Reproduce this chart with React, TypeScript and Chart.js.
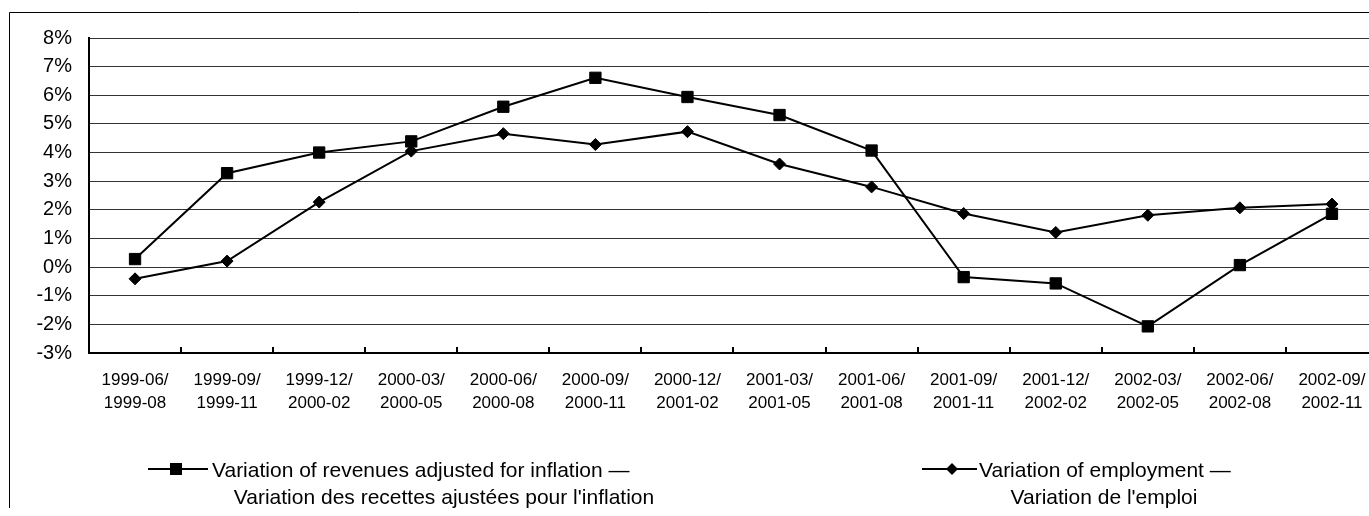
import React, { useEffect, useRef } from 'react';
import { Chart, registerables } from 'chart.js';

Chart.register(...registerables);

const FONT = '"Liberation Sans", Arial, Helvetica, sans-serif';

const categories: string[][] = [
  ['1999-06/', '1999-08'],
  ['1999-09/', '1999-11'],
  ['1999-12/', '2000-02'],
  ['2000-03/', '2000-05'],
  ['2000-06/', '2000-08'],
  ['2000-09/', '2000-11'],
  ['2000-12/', '2001-02'],
  ['2001-03/', '2001-05'],
  ['2001-06/', '2001-08'],
  ['2001-09/', '2001-11'],
  ['2001-12/', '2002-02'],
  ['2002-03/', '2002-05'],
  ['2002-06/', '2002-08'],
  ['2002-09/', '2002-11'],
];

const revenues: number[] = [0.28, 3.28, 4.0, 4.39, 5.6, 6.61, 5.94, 5.31, 4.07, -0.35, -0.57, -2.07, 0.07, 1.86];
const employment: number[] = [-0.41, 0.21, 2.27, 4.05, 4.66, 4.28, 4.73, 3.6, 2.8, 1.87, 1.21, 1.81, 2.07, 2.2];

const yMin = -3;
const yMax = 8;
const yStep = 1;

const revenuesLabel: string[] = [
  'Variation of revenues adjusted for inflation \u2014',
  "Variation des recettes ajust\u00e9es pour l'inflation",
];
const employmentLabel: string[] = ['Variation of employment \u2014', "Variation de l'emploi"];

const decorPlugin = {
  id: 'decor',
  beforeDraw(chart: any) {
    const ctx = chart.ctx;
    ctx.save();
    ctx.fillStyle = '#fff';
    ctx.fillRect(0, 0, chart.width, chart.height);
    // outer frame (left and top visible)
    ctx.strokeStyle = '#000';
    ctx.lineWidth = 1;
    ctx.beginPath();
    ctx.moveTo(1.5, chart.height + 10);
    ctx.lineTo(1.5, 4.5);
    ctx.lineTo(chart.width + 10, 4.5);
    ctx.stroke();
    ctx.restore();
  },
  afterDraw(chart: any) {
    const ctx = chart.ctx;
    const xs = chart.scales.x;
    const bottom = chart.chartArea.bottom;
    const half = (xs.getPixelForValue(1) - xs.getPixelForValue(0)) / 2;
    ctx.save();
    // inside tick marks between categories
    ctx.strokeStyle = '#000';
    ctx.lineWidth = 2;
    ctx.beginPath();
    for (let i = 1; i <= categories.length; i++) {
      const x = Math.round(xs.getPixelForValue(i) - half);
      ctx.moveTo(x, bottom);
      ctx.lineTo(x, bottom - 6);
    }
    ctx.stroke();

    // legend
    ctx.font = `21px ${FONT}`;
    ctx.fillStyle = '#000';
    ctx.textBaseline = 'alphabetic';
    const drawItem = (
      lx0: number,
      lx1: number,
      mx: number,
      tx: number,
      c2: number,
      lines: string[],
      style: string
    ) => {
      const ly = 461;
      ctx.lineWidth = 2;
      ctx.beginPath();
      ctx.moveTo(lx0, ly);
      ctx.lineTo(lx1, ly);
      ctx.stroke();
      ctx.beginPath();
      if (style === 'rect') {
        ctx.rect(mx - 6, ly - 6, 12, 12);
      } else {
        ctx.moveTo(mx - 6, ly);
        ctx.lineTo(mx, ly - 6);
        ctx.lineTo(mx + 6, ly);
        ctx.lineTo(mx, ly + 6);
        ctx.closePath();
      }
      ctx.fill();
      ctx.textAlign = 'left';
      ctx.fillText(lines[0], tx, 469);
      ctx.textAlign = 'center';
      ctx.fillText(lines[1], c2, 496);
    };
    drawItem(140, 200, 168, 204, 436, revenuesLabel, 'rect');
    drawItem(914, 969, 944, 971, 1096, employmentLabel, 'rectRot');
    ctx.restore();
  },
};

export default function App() {
  const ref = useRef<HTMLCanvasElement | null>(null);

  useEffect(() => {
    if (!ref.current) return;
    const chart = new Chart(ref.current, {
      type: 'line',
      data: {
        labels: categories,
        datasets: [
          {
            label: revenuesLabel.join(' '),
            data: revenues,
            borderColor: '#000',
            backgroundColor: '#000',
            borderWidth: 2,
            pointStyle: 'rect',
            pointRadius: 8,
            pointBorderWidth: 1,
            pointBackgroundColor: '#000',
            pointBorderColor: '#000',
            tension: 0,
          },
          {
            label: employmentLabel.join(' '),
            data: employment,
            borderColor: '#000',
            backgroundColor: '#000',
            borderWidth: 2,
            pointStyle: 'rectRot',
            pointRadius: 6,
            pointBorderWidth: 1,
            pointBackgroundColor: '#000',
            pointBorderColor: '#000',
            tension: 0,
          },
        ],
      },
      options: {
        responsive: false,
        animation: false,
        layout: { padding: { left: 0, right: 30, top: 30, bottom: 0 } },
        plugins: {
          legend: { display: false },
          tooltip: { enabled: false },
        },
        scales: {
          x: {
            type: 'category',
            offset: true,
            grid: { display: false, drawTicks: false },
            border: { display: true, color: '#000', width: 2 },
            ticks: {
              color: '#000',
              font: { family: FONT, size: 17, lineHeight: 1.335 },
              padding: 16,
              maxRotation: 0,
              minRotation: 0,
              autoSkip: false,
            },
            afterFit(scale: any) {
              scale.height = 155;
            },
          },
          y: {
            min: yMin,
            max: yMax,
            ticks: {
              stepSize: yStep,
              color: '#000',
              font: { family: FONT, size: 20 },
              padding: 17,
              callback: (v: any) => `${v}%`,
            },
            grid: { color: '#333', lineWidth: 1, drawTicks: false },
            border: { display: true, color: '#000', width: 2 },
            afterFit(scale: any) {
              scale.width = 81;
            },
          },
        },
      },
      plugins: [decorPlugin],
    });
    return () => chart.destroy();
  }, []);

  return (
    <div
      style={{
        position: 'fixed',
        left: 8,
        top: 8,
        right: 0,
        bottom: 0,
        overflow: 'hidden',
        background: '#fff',
      }}
    >
      <canvas ref={ref} width={1400} height={500} style={{ display: 'block' }} />
    </div>
  );
}
